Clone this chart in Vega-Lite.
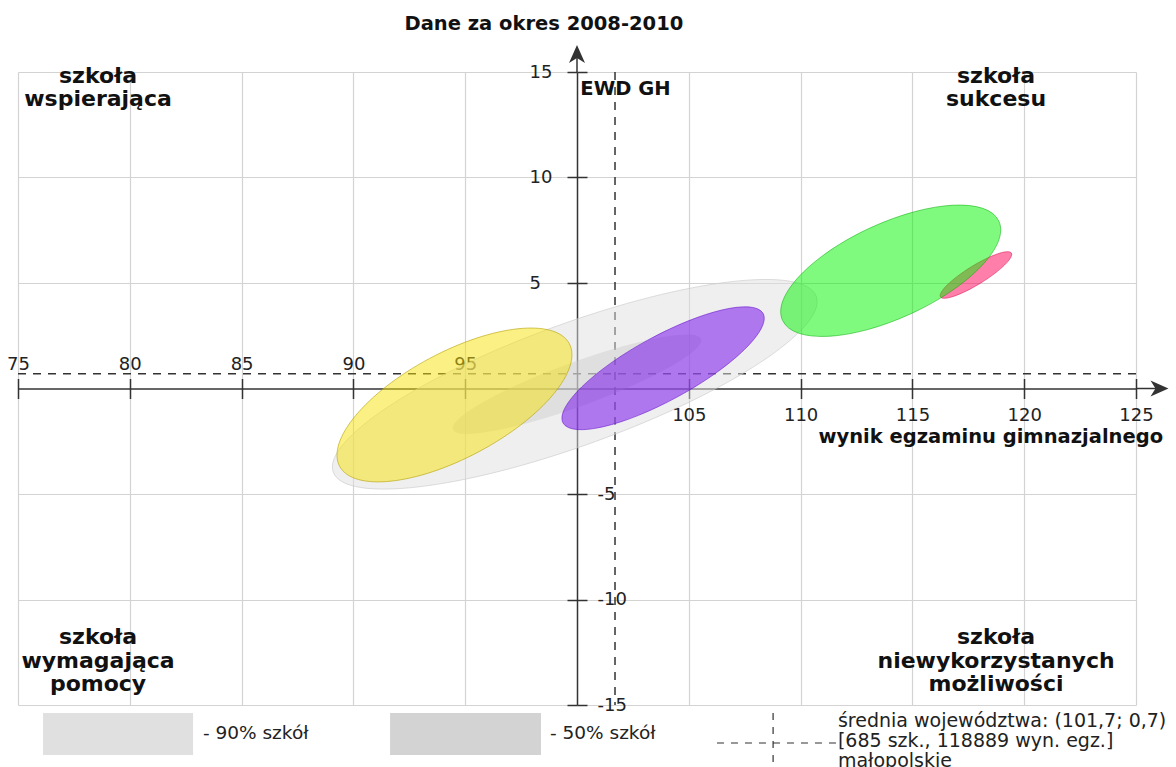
{
  "$schema": "https://vega.github.io/schema/vega-lite/v6.json",
  "width": 1118,
  "height": 633,
  "autosize": {"type": "none"},
  "padding": {"left": 18, "top": 72, "right": 40, "bottom": 62},
  "background": "white",
  "config": {
    "view": {"stroke": null},
    "font": "DejaVu Sans",
    "axis": {
      "labelFont": "DejaVu Sans",
      "labelFontSize": 18,
      "labelColor": "#222222",
      "labelFlush": false,
      "labelOverlap": false,
      "tickColor": "#333333",
      "tickWidth": 1.5,
      "tickSize": 10,
      "domainColor": "#333333",
      "domainWidth": 1.5,
      "gridColor": "#d3d3d3",
      "gridWidth": 1.2
    }
  },
  "datasets": {
    "elipsy": [
      {"grupa": "90% szkół", "wynik": 99.9, "ewd": 0.2},
      {"grupa": "50% szkół", "wynik": 100.0, "ewd": 0.2},
      {"grupa": "szkoła A", "wynik": 94.52, "ewd": -0.78},
      {"grupa": "szkoła B", "wynik": 103.85, "ewd": 0.96},
      {"grupa": "szkoła D", "wynik": 117.84, "ewd": 5.38},
      {"grupa": "szkoła C", "wynik": 114.03, "ewd": 5.58}
    ],
    "srednia": [{"wynik": 101.7, "ewd": 0.7}],
    "osie": [
      {"kierunek": "prawo", "x": 125, "x2": 126.05, "y": 0, "y2": 0},
      {"kierunek": "gora", "x": 100, "x2": 100, "y": 15, "y2": 15.85}
    ],
    "grot_x": [{"x": 126.05, "y": 0}],
    "grot_y": [{"x": 100, "y": 15.85}],
    "tytul": [{"tekst": "Dane za okres 2008-2010", "x": 98.52, "y": 16.99}],
    "tytul_y": [{"tekst": "EWD GH", "x": 100.15, "y": 13.91}],
    "tytul_x": [{"tekst": "wynik egzaminu gimnazjalnego", "x": 126.21, "y": -2.58}],
    "cwiartki": [
      {"tekst": "szkoła\nwspierająca", "x": 78.58, "y": 14.48},
      {"tekst": "szkoła\nsukcesu", "x": 118.74, "y": 14.48},
      {"tekst": "szkoła\nwymagająca\npomocy", "x": 78.58, "y": -12.11},
      {"tekst": "szkoła\nniewykorzystanych\nmożliwości", "x": 118.74, "y": -12.11}
    ],
    "legenda_pola": [
      {"etykieta": "90% szkół", "x": 76.12, "x2": 82.83, "y": -15.38, "y2": -17.37},
      {"etykieta": "50% szkół", "x": 91.64, "x2": 98.39, "y": -15.38, "y2": -17.37}
    ],
    "legenda_krzyz": [
      {"x": 106.26, "x2": 111.63, "y": -16.8, "y2": -16.8},
      {"x": 108.77, "x2": 108.77, "y": -15.38, "y2": -18.3}
    ],
    "legenda_teksty": [
      {"tekst": "- 90% szkół", "x": 83.27, "y": -16.33},
      {"tekst": "- 50% szkół", "x": 98.79, "y": -16.33}
    ],
    "legenda_srednia": [
      {"tekst": "średnia województwa: (101,7; 0,7)\n[685 szk., 118889 wyn. egz.]\nmałopolskie", "x": 111.67, "y": -16.04}
    ]
  },
  "resolve": {
    "axis": {"x": "independent", "y": "independent"},
    "scale": {"shape": "independent", "fill": "independent", "stroke": "independent"}
  },
  "layer": [
    {
      "data": {"name": "srednia"},
      "mark": {"type": "point", "opacity": 0},
      "encoding": {
        "x": {
          "field": "wynik", "type": "quantitative",
          "scale": {"domain": [75, 125], "nice": false, "zero": false},
          "axis": {
            "orient": "bottom", "offset": -316.5, "title": null,
            "values": [75, 80, 85, 90, 95, 105, 110, 115, 120, 125],
            "grid": true, "domain": true, "ticks": true,
            "labelPadding": 8,
            "labelExpr": "datum.value > 100 ? datum.label : ''"
          }
        },
        "y": {
          "field": "ewd", "type": "quantitative",
          "scale": {"domain": [-15, 15], "nice": false, "zero": false},
          "axis": {
            "orient": "left", "offset": -559, "title": null,
            "values": [-15, -10, -5, 5, 10, 15],
            "grid": true, "domain": true, "ticks": true,
            "labelAlign": "left", "labelBaseline": "middle", "labelPadding": 38,
            "labelExpr": "datum.value > 0 ? datum.label : ''"
          }
        }
      }
    },
    {
      "data": {"name": "srednia"},
      "mark": {"type": "point", "opacity": 0},
      "encoding": {
        "x": {
          "field": "wynik", "type": "quantitative",
          "axis": {
            "orient": "top", "offset": -316.5, "title": null,
            "values": [75, 80, 85, 90, 95, 105, 110, 115, 120, 125],
            "grid": false, "domain": false, "ticks": true,
            "labelPadding": 5,
            "labelExpr": "datum.value < 100 ? datum.label : ''"
          }
        },
        "y": {
          "field": "ewd", "type": "quantitative",
          "axis": {
            "orient": "right", "offset": -559, "title": null,
            "values": [-15, -10, -5, 5, 10, 15],
            "grid": false, "domain": false, "ticks": true,
            "labelAlign": "left", "labelBaseline": "middle", "labelPadding": 10,
            "labelExpr": "datum.value < 0 ? '-' + abs(datum.value) : ''"
          }
        }
      }
    },
    {
      "data": {"name": "srednia"},
      "mark": {"type": "rule", "color": "#333333", "strokeWidth": 1.5, "strokeDash": [8, 7]},
      "encoding": {
        "y": {"field": "ewd", "type": "quantitative", "axis": null}
      }
    },
    {
      "data": {"name": "srednia"},
      "mark": {"type": "rule", "color": "#333333", "strokeWidth": 1.5, "strokeDash": [8, 7]},
      "encoding": {
        "x": {"field": "wynik", "type": "quantitative", "axis": null}
      }
    },
    {
      "data": {"name": "osie"},
      "mark": {"type": "rule", "color": "#333333", "strokeWidth": 1.5},
      "encoding": {
        "x": {"field": "x", "type": "quantitative", "axis": null},
        "x2": {"field": "x2"},
        "y": {"field": "y", "type": "quantitative", "axis": null},
        "y2": {"field": "y2"}
      }
    },
    {
      "data": {"name": "grot_x"},
      "mark": {"type": "point", "shape": "M9,0L-9,-8L-4,0L-9,8Z", "size": 4, "filled": true, "opacity": 1, "color": "#333333", "strokeWidth": 0},
      "encoding": {
        "x": {"field": "x", "type": "quantitative", "axis": null},
        "y": {"field": "y", "type": "quantitative", "axis": null}
      }
    },
    {
      "data": {"name": "grot_y"},
      "mark": {"type": "point", "shape": "M0,-9L-8,9L0,4L8,9Z", "size": 4, "filled": true, "opacity": 1, "color": "#333333", "strokeWidth": 0},
      "encoding": {
        "x": {"field": "x", "type": "quantitative", "axis": null},
        "y": {"field": "y", "type": "quantitative", "axis": null}
      }
    },
    {
      "data": {"name": "elipsy"},
      "mark": {"type": "point", "size": 4, "filled": true, "opacity": 1, "strokeWidth": 1},
      "encoding": {
        "x": {"field": "wynik", "type": "quantitative", "axis": null},
        "y": {"field": "ewd", "type": "quantitative", "axis": null},
        "shape": {
          "field": "grupa", "type": "nominal", "legend": null,
          "scale": {
            "domain": ["90% szkół", "50% szkół", "szkoła A", "szkoła B", "szkoła D", "szkoła C"],
            "range": [
              "M-241.5,87.9A257,61,-20,0,1,241.5,-87.9A257,61,-20,0,1,-241.5,87.9Z",
              "M-124.04,45.15A132,22,-20,0,1,124.04,-45.15A132,22,-20,0,1,-124.04,45.15Z",
              "M-114.85,61.33A130.2,52.9,-28.1,0,1,114.85,-61.33A130.2,52.9,-28.1,0,1,-114.85,61.33Z",
              "M-100.08,54.79A114.1,32.3,-28.7,0,1,100.08,-54.79A114.1,32.3,-28.7,0,1,-100.08,54.79Z",
              "M-35.48,21.91A41.7,9.4,-31.7,0,1,35.48,-21.91A41.7,9.4,-31.7,0,1,-35.48,21.91Z",
              "M-108.2,49.54A119,47.5,-24.6,0,1,108.2,-49.54A119,47.5,-24.6,0,1,-108.2,49.54Z"
            ]
          }
        },
        "fill": {
          "field": "grupa", "type": "nominal", "legend": null,
          "scale": {
            "domain": ["90% szkół", "50% szkół", "szkoła A", "szkoła B", "szkoła D", "szkoła C"],
            "range": ["rgba(224,224,224,0.5)", "rgba(200,200,200,0.4)", "rgba(248,225,10,0.5)", "rgba(110,0,235,0.5)", "rgba(255,0,85,0.5)", "rgba(0,245,0,0.5)"]
          }
        },
        "stroke": {
          "field": "grupa", "type": "nominal", "legend": null,
          "scale": {
            "domain": ["90% szkół", "50% szkół", "szkoła A", "szkoła B", "szkoła D", "szkoła C"],
            "range": ["rgba(200,200,200,0.6)", "rgba(200,200,200,0)", "rgba(180,160,0,0.6)", "rgba(90,0,200,0.5)", "rgba(220,0,70,0.5)", "rgba(0,170,0,0.5)"]
          }
        }
      }
    },
    {
      "data": {"name": "tytul"},
      "mark": {"type": "text", "font": "DejaVu Sans", "fontSize": 19.5, "fontWeight": "bold", "align": "center", "baseline": "alphabetic", "color": "#111111"},
      "encoding": {
        "x": {"field": "x", "type": "quantitative", "axis": null},
        "y": {"field": "y", "type": "quantitative", "axis": null},
        "text": {"field": "tekst"}
      }
    },
    {
      "data": {"name": "tytul_y"},
      "mark": {"type": "text", "font": "DejaVu Sans", "fontSize": 19.5, "fontWeight": "bold", "align": "left", "baseline": "alphabetic", "color": "#111111"},
      "encoding": {
        "x": {"field": "x", "type": "quantitative", "axis": null},
        "y": {"field": "y", "type": "quantitative", "axis": null},
        "text": {"field": "tekst"}
      }
    },
    {
      "data": {"name": "tytul_x"},
      "mark": {"type": "text", "font": "DejaVu Sans", "fontSize": 19.5, "fontWeight": "bold", "align": "right", "baseline": "alphabetic", "color": "#111111"},
      "encoding": {
        "x": {"field": "x", "type": "quantitative", "axis": null},
        "y": {"field": "y", "type": "quantitative", "axis": null},
        "text": {"field": "tekst"}
      }
    },
    {
      "data": {"name": "cwiartki"},
      "mark": {"type": "text", "font": "DejaVu Sans", "fontSize": 22, "fontWeight": "bold", "align": "center", "baseline": "alphabetic", "lineBreak": "\n", "lineHeight": 23.5, "color": "#111111"},
      "encoding": {
        "x": {"field": "x", "type": "quantitative", "axis": null},
        "y": {"field": "y", "type": "quantitative", "axis": null},
        "text": {"field": "tekst"}
      }
    },
    {
      "data": {"name": "legenda_pola"},
      "mark": {"type": "rect"},
      "encoding": {
        "x": {"field": "x", "type": "quantitative", "axis": null},
        "x2": {"field": "x2"},
        "y": {"field": "y", "type": "quantitative", "axis": null},
        "y2": {"field": "y2"},
        "fill": {
          "field": "etykieta", "type": "nominal", "legend": null,
          "scale": {"domain": ["90% szkół", "50% szkół"], "range": ["#e0e0e0", "#d3d3d3"]}
        }
      }
    },
    {
      "data": {"name": "legenda_krzyz"},
      "mark": {"type": "rule", "color": "#333333", "strokeWidth": 1.2, "strokeDash": [7, 7]},
      "encoding": {
        "x": {"field": "x", "type": "quantitative", "axis": null},
        "x2": {"field": "x2"},
        "y": {"field": "y", "type": "quantitative", "axis": null},
        "y2": {"field": "y2"}
      }
    },
    {
      "data": {"name": "legenda_teksty"},
      "mark": {"type": "text", "font": "DejaVu Sans", "fontSize": 18.5, "align": "left", "baseline": "middle", "color": "#222222"},
      "encoding": {
        "x": {"field": "x", "type": "quantitative", "axis": null},
        "y": {"field": "y", "type": "quantitative", "axis": null},
        "text": {"field": "tekst"}
      }
    },
    {
      "data": {"name": "legenda_srednia"},
      "mark": {"type": "text", "font": "DejaVu Sans", "fontSize": 19, "align": "left", "baseline": "alphabetic", "lineBreak": "\n", "lineHeight": 20, "color": "#222222"},
      "encoding": {
        "x": {"field": "x", "type": "quantitative", "axis": null},
        "y": {"field": "y", "type": "quantitative", "axis": null},
        "text": {"field": "tekst"}
      }
    }
  ]
}
